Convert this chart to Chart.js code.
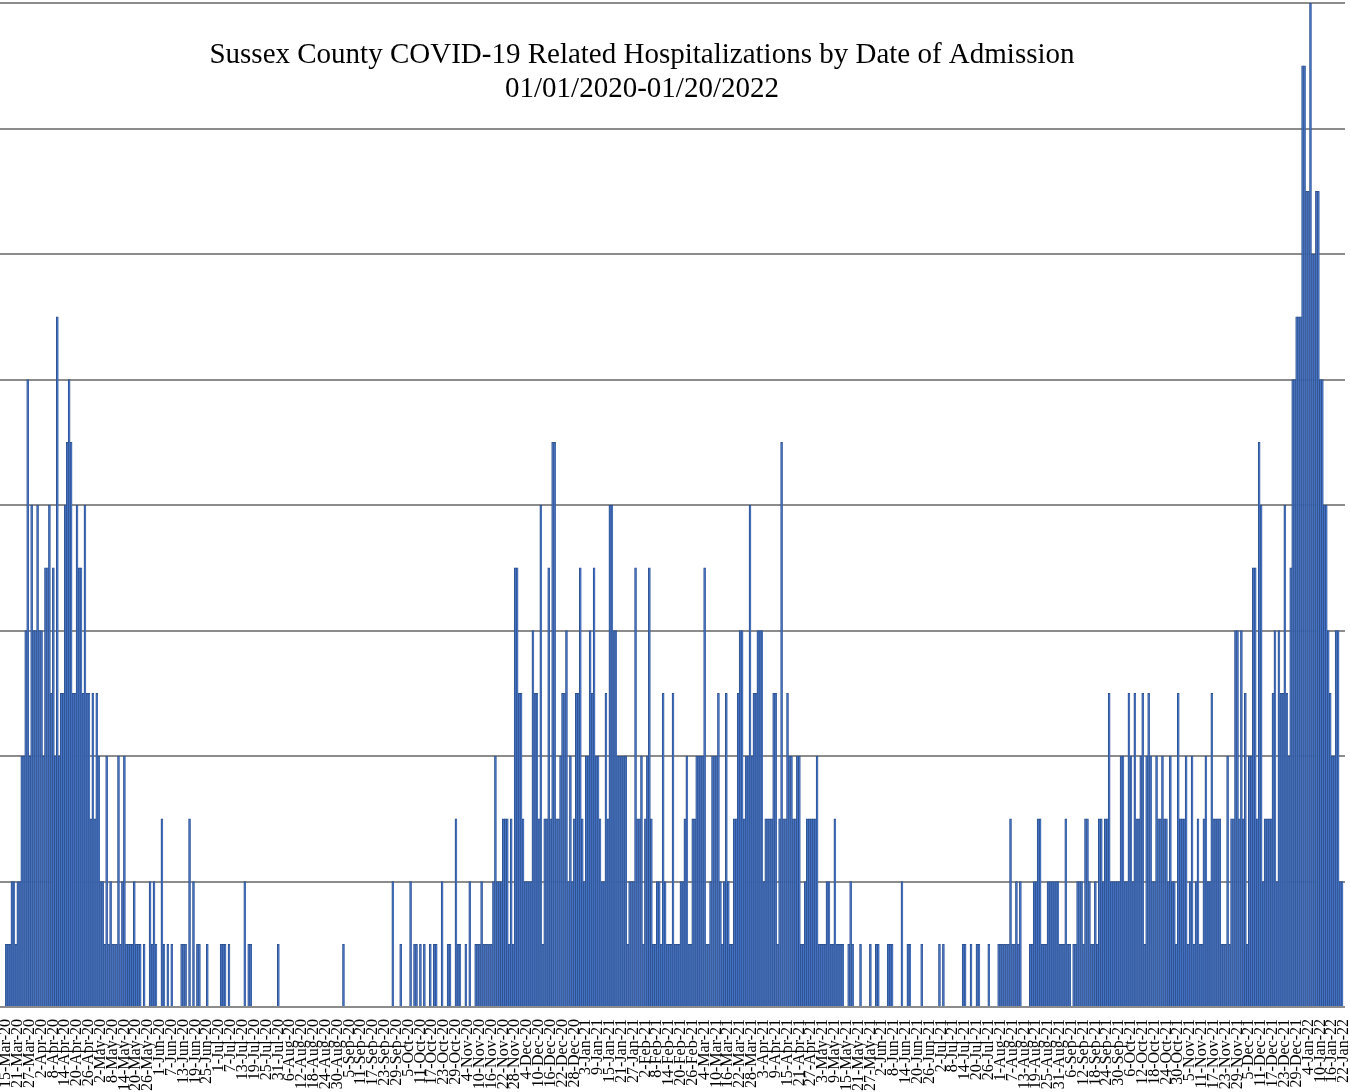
<!DOCTYPE html>
<html>
<head>
<meta charset="utf-8">
<title>Sussex County COVID-19 Related Hospitalizations</title>
<script src="https://cdn.jsdelivr.net/npm/chart.js@4.4.1/dist/chart.umd.min.js"></script>
<style>
  html, body { margin: 0; padding: 0; background: #ffffff; overflow: hidden; }
  #c { display: block; }
</style>
</head>
<body>
<canvas id="c" width="1350" height="1092"></canvas>
<script>
// ---- Data ----
const titleLines = [
  "Sussex County COVID-19 Related Hospitalizations by Date of Admission",
  "01/01/2020-01/20/2022"
];
const firstDay = "2020-03-15";   // first category (15-Mar-20)
const dayCount = 679;            // through 22-Jan-22
const labelEvery = 6;            // a tick label every 6 days
const monthNames = ["Jan","Feb","Mar","Apr","May","Jun","Jul","Aug","Sep","Oct","Nov","Dec"];

const hospitalizations = [
  1,1,1,2,2,1,2,2,4,4,
  6,10,4,8,6,6,8,6,6,4,
  7,7,8,5,7,4,11,4,5,5,
  8,9,10,9,5,5,8,7,7,5,
  8,5,5,3,5,3,5,4,2,2,
  1,4,1,2,1,1,1,4,1,2,
  4,1,1,1,1,2,1,1,1,0,
  1,0,0,2,1,2,1,0,0,3,
  1,0,1,0,1,0,0,0,0,1,
  1,1,0,3,0,2,0,1,1,0,
  0,0,1,0,0,0,0,0,0,1,
  1,1,0,1,0,0,0,0,0,0,
  0,2,0,1,1,0,0,0,0,0,
  0,0,0,0,0,0,0,0,1,0,
  0,0,0,0,0,0,0,0,0,0,
  0,0,0,0,0,0,0,0,0,0,
  0,0,0,0,0,0,0,0,0,0,
  0,1,0,0,0,0,0,0,0,0,
  0,0,0,0,0,0,0,0,0,0,
  0,0,0,0,0,0,2,0,0,0,
  1,0,0,0,0,2,0,1,1,0,
  1,0,1,0,0,1,0,1,1,0,
  0,2,0,0,1,1,0,0,3,1,
  1,0,0,1,0,2,0,0,1,1,
  1,2,1,1,1,1,1,2,4,2,
  2,2,3,3,3,1,3,1,7,7,
  5,5,3,2,2,2,2,6,5,5,
  3,8,1,3,3,7,3,9,9,3,
  3,4,5,5,6,2,4,2,3,5,
  5,7,3,2,4,4,6,5,7,4,
  4,3,2,2,5,3,8,8,6,6,
  4,4,4,4,4,1,2,2,2,7,
  3,3,4,1,3,4,7,3,1,1,
  2,2,1,5,2,1,1,1,5,1,
  1,1,2,2,3,4,1,1,3,3,
  4,4,4,4,7,1,1,2,4,4,
  4,5,2,1,2,5,2,1,1,3,
  3,5,6,6,3,4,4,8,4,5,
  5,6,6,6,2,3,3,3,3,5,
  5,1,3,9,3,3,5,4,4,3,
  3,4,4,1,1,2,3,3,3,3,
  3,4,1,1,1,1,2,2,1,1,
  3,1,1,1,1,0,0,1,2,1,
  0,0,0,1,0,0,0,0,1,0,
  0,1,1,0,0,0,0,1,1,1,
  0,0,0,0,2,0,0,1,1,0,
  0,0,0,0,1,0,0,0,0,0,
  0,0,0,1,0,1,0,0,0,0,
  0,0,0,0,0,1,1,0,0,1,
  0,0,1,1,0,0,0,0,1,0,
  0,0,0,1,1,1,1,1,1,3,
  1,1,2,1,2,0,0,0,0,1,
  1,2,2,3,3,1,1,1,2,2,
  2,2,2,2,1,1,1,3,1,1,
  0,1,1,2,2,2,1,3,3,2,
  1,1,2,1,3,3,2,3,3,5,
  2,2,2,2,2,4,4,2,2,5,
  4,2,5,3,3,4,5,1,4,5,
  4,2,2,4,3,3,4,3,3,2,
  4,2,2,1,5,3,3,3,4,1,
  2,4,1,2,3,1,1,3,4,2,
  2,5,3,3,3,3,1,1,1,4,
  1,3,3,6,6,3,6,3,5,1,
  4,4,7,7,3,9,8,2,3,3,
  3,3,5,6,2,6,5,5,8,5,
  4,7,10,10,11,11,11,15,15,13,
  13,16,12,12,13,13,10,10,8,8,
  6,5,4,4,6,6,2,2,0
];
const yMin = 0;
const yMax = 16;
const yStep = 2;

// ---- Category labels (dates) ----
function fmtDate(d) {
  return d.getUTCDate() + "-" + monthNames[d.getUTCMonth()] + "-" + String(d.getUTCFullYear()).slice(2);
}
const categories = [];
(function () {
  const d0 = new Date(firstDay + "T00:00:00Z");
  for (let i = 0; i < dayCount; i++) {
    const d = new Date(d0.getTime() + i * 86400000);
    categories.push(fmtDate(d));
  }
})();

// ---- Title overlay plugin (drawn inside plot area like the original) ----
const titlePlugin = {
  id: 'overlayTitle',
  afterDraw(chart) {
    const ctx = chart.ctx;
    ctx.save();
    ctx.fillStyle = '#000000';
    ctx.font = '29px "Liberation Serif", "Times New Roman", serif';
    ctx.textAlign = 'center';
    ctx.textBaseline = 'alphabetic';
    ctx.fillText(titleLines[0], 642, 63);
    ctx.fillText(titleLines[1], 642, 97);
    ctx.restore();
  }
};

new Chart(document.getElementById('c'), {
  type: 'bar',
  data: {
    labels: categories,
    datasets: [{
      label: 'Hospitalizations',
      data: hospitalizations,
      backgroundColor: '#4472C4',
      borderColor: '#2F528F',
      borderWidth: { top: 1, left: 1, right: 0.5, bottom: 0 },
      borderSkipped: 'start',
      barPercentage: 1.0,
      categoryPercentage: 1.0
    }]
  },
  options: {
    responsive: false,
    animation: false,
    devicePixelRatio: 1,
    layout: { padding: { top: 3, right: 5, left: 0, bottom: 0 } },
    plugins: {
      legend: { display: false },
      title: { display: false },
      tooltip: { enabled: false }
    },
    scales: {
      x: {
        grid: { display: false },
        border: { display: false },
        ticks: {
          autoSkip: false,
          maxRotation: 90,
          minRotation: 90,
          padding: 4,
          color: '#000000',
          font: { family: '"Liberation Serif", "Times New Roman", serif', size: 16 },
          callback: function (value, index) {
            return index % labelEvery === 0 ? categories[index] : null;
          }
        },
        afterFit: function (scale) {
          scale.height = 85;
          scale.paddingLeft = 0;
          scale.paddingRight = 0;
        }
      },
      y: {
        min: yMin,
        max: yMax,
        ticks: { display: false, stepSize: yStep },
        grid: {
          color: '#8c8c8c',
          lineWidth: 2,
          drawTicks: true,
          tickLength: 5
        },
        border: { display: false },
        afterFit: function (scale) { scale.width = 5; }
      }
    }
  },
  plugins: [titlePlugin]
});
</script>
</body>
</html>
